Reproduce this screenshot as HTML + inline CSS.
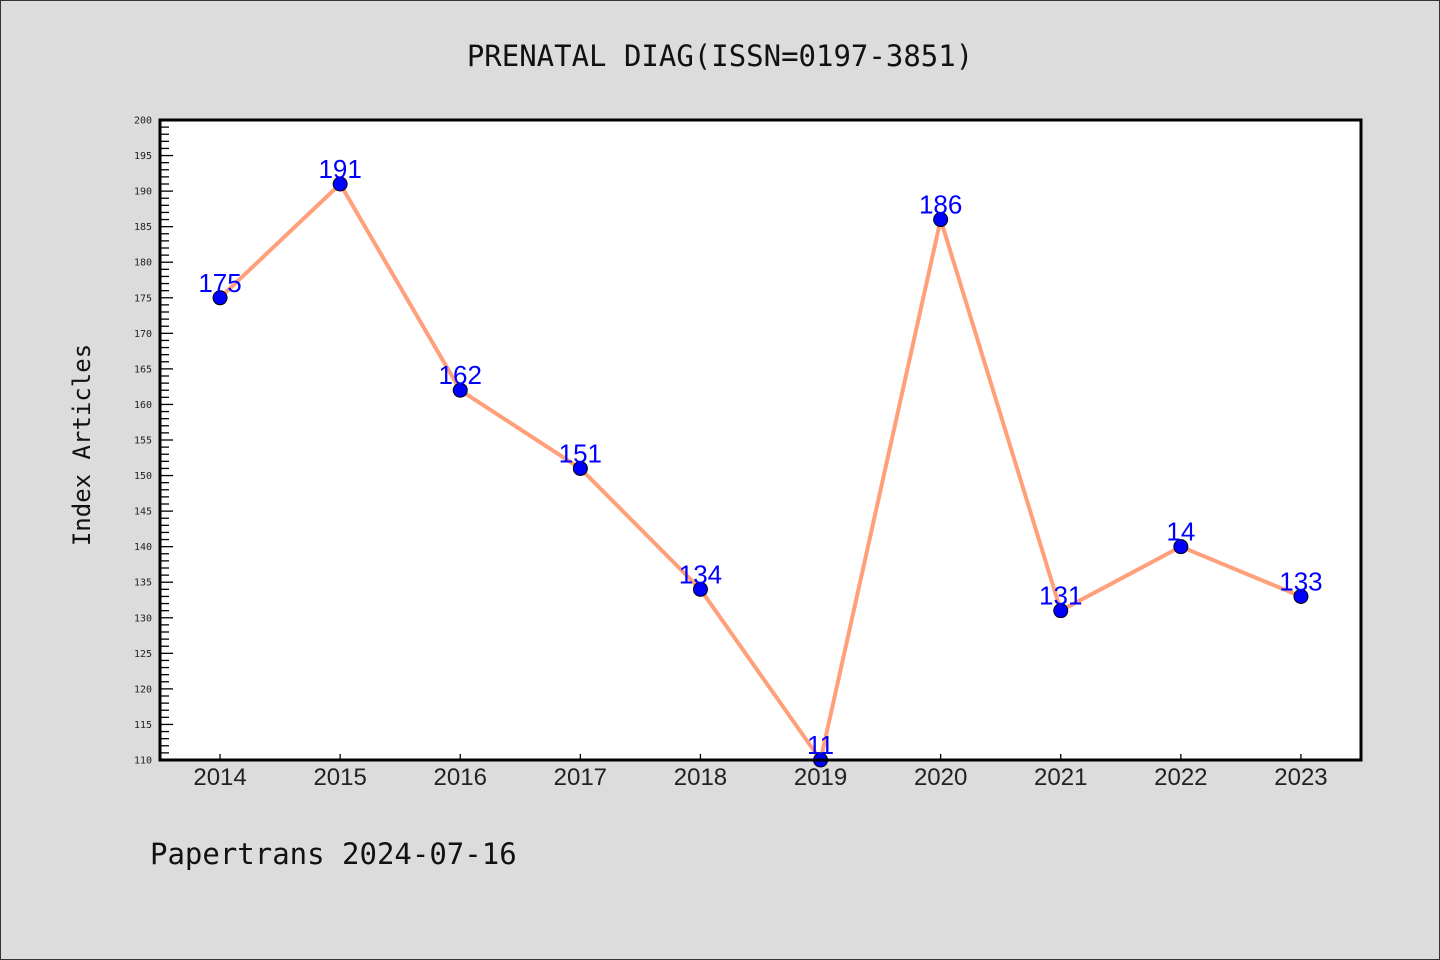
<!DOCTYPE html>
<html><head><meta charset="utf-8"><style>
html,body{margin:0;padding:0;background:#dcdcdc;}
svg{display:block;font-family:"DejaVu Sans Mono","Liberation Mono",monospace;}
</style></head><body>
<svg id="chart" width="1440" height="960" viewBox="0 0 1440 960">
<rect x="0.5" y="0.5" width="1439" height="959" fill="#dcdcdc" stroke="#333"/>
<text x="720" y="66" font-size="29" text-anchor="middle" fill="#111">PRENATAL DIAG(ISSN=0197-3851)</text>
<rect x="160" y="120" width="1201" height="640" fill="#fff"/>
<g id="yaxis"></g>
<g id="xaxis"></g>
<g id="series"></g>
<rect x="160" y="120" width="1201" height="640" fill="none" stroke="#000" stroke-width="3"/>
<text x="90" y="445" font-size="24" text-anchor="middle" fill="#111" transform="rotate(-90 90 445)">Index Articles</text>
<text x="150" y="864" font-size="29" fill="#111">Papertrans 2024-07-16</text>
</svg>
<script>
const categories = ["2014","2015","2016","2017","2018","2019","2020","2021","2022","2023"];
const values = [175,191,162,151,134,110,186,131,140,133];
const valueLabels = ["175","191","162","151","134","11","186","131","14","133"];
const yMin = 110, yMax = 200;
const L=160,R=1361,T=120,B=760;
const NS="http://www.w3.org/2000/svg";
const band=(R-L)/categories.length;
function xs(i){return L+band*(i+0.5);}
function ys(v){return B-(v-yMin)/(yMax-yMin)*(B-T);}
function mk(tag,attrs,parent){const e=document.createElementNS(NS,tag);for(const k in attrs)e.setAttribute(k,attrs[k]);parent.appendChild(e);return e;}
const ya=document.getElementById('yaxis'),xa=document.getElementById('xaxis'),sg=document.getElementById('series');
for(let v=yMin;v<=yMax;v++){
  const major=v%5===0;
  const t=mk('line',{x1:L,x2:L+(major?13:9),y1:ys(v),y2:ys(v),stroke:'#000','stroke-width':1.3},ya);
  
  
  if(major){
    const tx=mk('text',{x:L-8,y:ys(v)+3.5,'font-size':10,'text-anchor':'end',fill:'#222'},ya);
    tx.textContent=v;
    
    
  }
}
categories.forEach((c,i)=>{
  const t=mk('line',{x1:xs(i),x2:xs(i),y1:B,y2:B-6,stroke:'#000','stroke-width':1.3},xa);
  
  
  const tx=mk('text',{x:xs(i),y:B+25,'font-size':24,'text-anchor':'middle',fill:'#222','font-family':'Liberation Sans, sans-serif'},xa);
  tx.textContent=c;
  
  
});
const pts=values.map((v,i)=>xs(i)+','+ys(v)).join(' ');
const pl=mk('polyline',{points:pts,fill:'none',stroke:'#ffa07a','stroke-width':4,'stroke-linejoin':'round'},sg);


values.forEach((v,i)=>{
  const c=mk('circle',{cx:xs(i),cy:ys(v),r:7,fill:'#0000ff',stroke:'#000','stroke-width':1},sg);
  
  
});
values.forEach((v,i)=>{
  const t=mk('text',{x:xs(i),y:ys(v)-6,'font-size':26,'text-anchor':'middle',fill:'#0000ff','font-family':'Liberation Sans, sans-serif'},sg);
  t.textContent=valueLabels[i];
  
  
});
</script>
</body></html>
